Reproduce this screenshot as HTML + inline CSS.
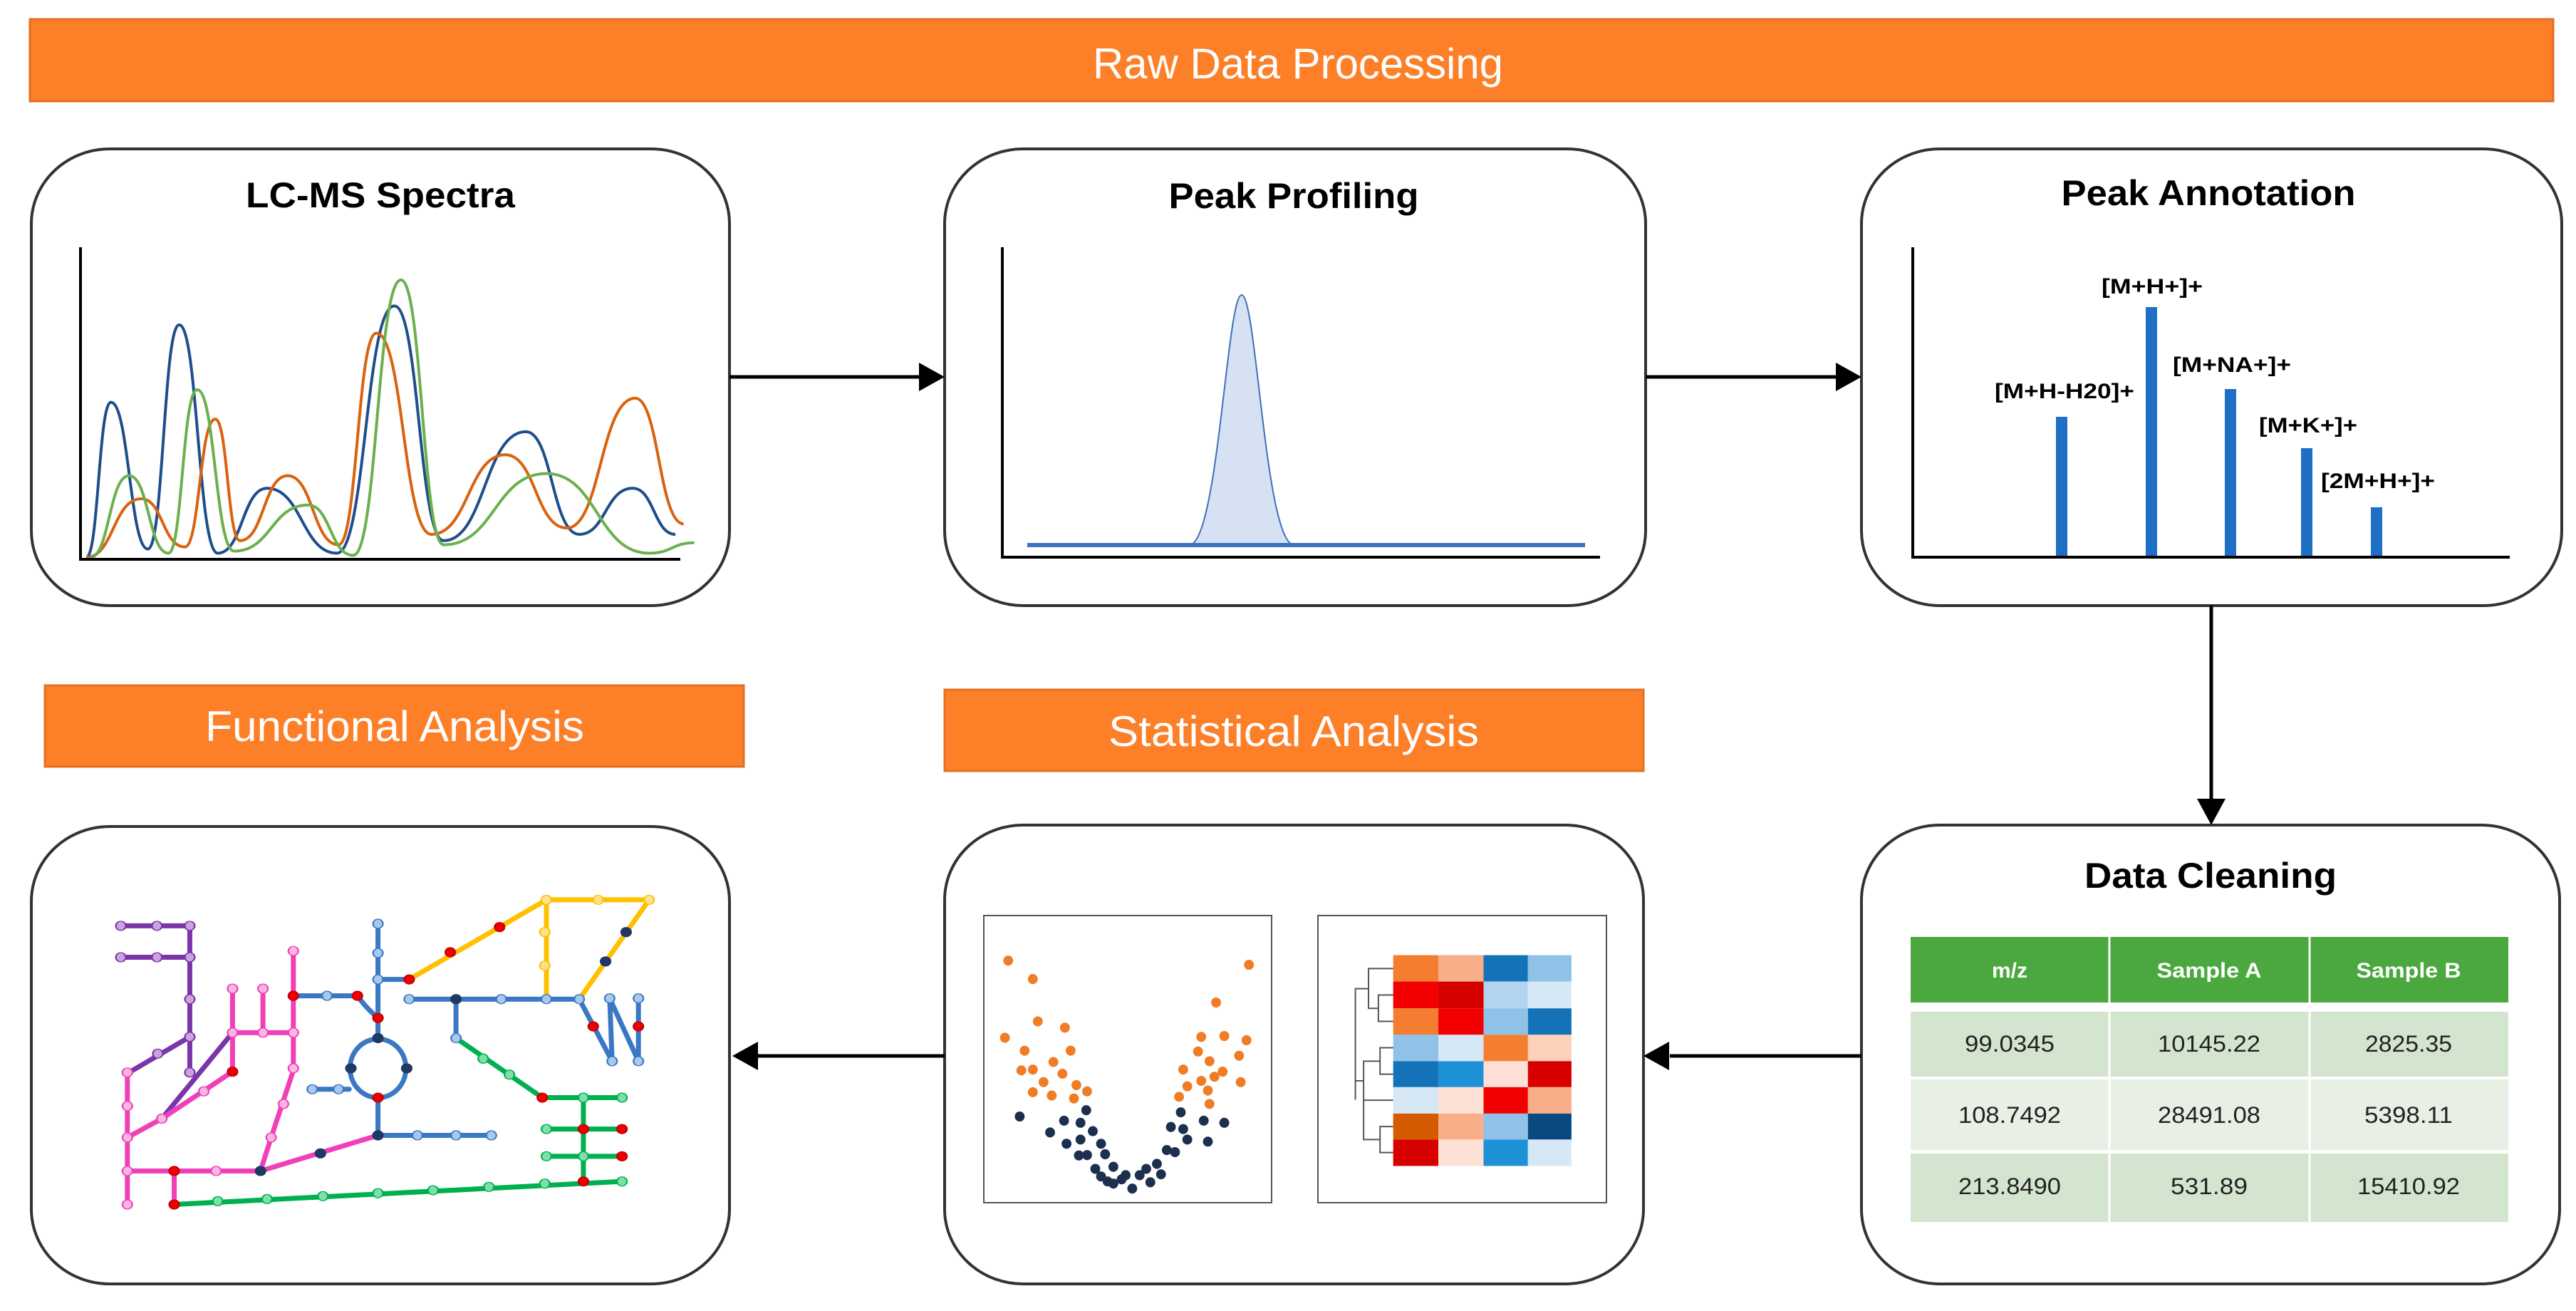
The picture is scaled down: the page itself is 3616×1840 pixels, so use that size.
<!DOCTYPE html>
<html><head><meta charset="utf-8"><style>
html,body{margin:0;padding:0;background:#fff;width:3616px;height:1840px;overflow:hidden}
svg{display:block}
.h{font-family:"Liberation Sans",Arial,sans-serif;font-weight:bold;fill:#000}
.b{font-family:"Liberation Sans",Arial,sans-serif;fill:#fff}
.t{font-family:"Liberation Sans",Arial,sans-serif;fill:#222}
.box{fill:#fff;stroke:#333;stroke-width:4}
.ban{fill:#fd7f28;stroke:#e36f22;stroke-width:3}
</style></head><body>
<svg width="3616" height="1840" viewBox="0 0 3616 1840" xmlns="http://www.w3.org/2000/svg">
<defs>
<marker id="ah" markerWidth="10" markerHeight="10" refX="9" refY="5" orient="auto" markerUnits="userSpaceOnUse" viewBox="0 0 10 10"><path d="M0,0 L10,5 L0,10 z" fill="#000"/></marker>
</defs>
<!-- banners -->
<rect class="ban" x="42" y="27" width="3542" height="115"/>
<text class="b" x="1822" y="110" font-size="60" text-anchor="middle" textLength="576" lengthAdjust="spacingAndGlyphs">Raw Data Processing</text>
<rect class="ban" x="63" y="962" width="981" height="114"/>
<text class="b" x="554" y="1040" font-size="60" text-anchor="middle" textLength="532" lengthAdjust="spacingAndGlyphs">Functional Analysis</text>
<rect class="ban" x="1326" y="968" width="981" height="114"/>
<text class="b" x="1816" y="1047" font-size="60" text-anchor="middle" textLength="520" lengthAdjust="spacingAndGlyphs">Statistical Analysis</text>

<!-- boxes -->
<rect class="box" x="44" y="209" width="980" height="641" rx="110" ry="105"/>
<rect class="box" x="1326" y="209" width="984" height="641" rx="110" ry="105"/>
<rect class="box" x="2613" y="209" width="983" height="641" rx="110" ry="105"/>
<rect class="box" x="2613" y="1158" width="980" height="644" rx="110" ry="105"/>
<rect class="box" x="1326" y="1158" width="981" height="644" rx="110" ry="105"/>
<rect class="box" x="44" y="1160" width="980" height="642" rx="110" ry="105"/>

<!-- arrows -->
<g stroke="#000" stroke-width="5" fill="none">
<line x1="1024" y1="529" x2="1290" y2="529"/>
<line x1="2310" y1="529" x2="2578" y2="529"/>
<line x1="3104" y1="850" x2="3104" y2="1122"/>
<line x1="2613" y1="1482" x2="2344" y2="1482"/>
<line x1="1326" y1="1482" x2="1060" y2="1482"/>
</g>
<path d="M1326,529 L1290,509 L1290,549 z"/>
<path d="M2613,529 L2577,509 L2577,549 z"/>
<path d="M3104,1158 L3084,1121 L3124,1121 z"/>
<path d="M2307,1482 L2343,1462 L2343,1502 z"/>
<path d="M1028,1482 L1064,1462 L1064,1502 z"/>

<!-- titles -->
<text class="h" x="534" y="291" font-size="50" text-anchor="middle" textLength="378" lengthAdjust="spacingAndGlyphs">LC-MS Spectra</text>
<text class="h" x="1816" y="292" font-size="50" text-anchor="middle" textLength="351" lengthAdjust="spacingAndGlyphs">Peak Profiling</text>
<text class="h" x="3100" y="288" font-size="50" text-anchor="middle" textLength="413" lengthAdjust="spacingAndGlyphs">Peak Annotation</text>
<text class="h" x="3103" y="1246" font-size="50" text-anchor="middle" textLength="354" lengthAdjust="spacingAndGlyphs">Data Cleaning</text>

<!-- LC-MS plot (zoom coords) -->
<g transform="matrix(1.1534,0,0,0.5882,0,0)" fill="none">
<path vector-effect="non-scaling-stroke" stroke="#1f4e8c" stroke-width="4" d="M105,1330 C120,1330 120,960 135,960 C157,960 158,1310 180,1310 C199,1310 199,775 218,775 C241,775 241,1320 265,1320 C295,1320 295,1165 325,1165 C367,1165 368,1320 410,1320 C445,1320 445,730 480,730 C510,730 510,1290 540,1290 C590,1290 590,1030 640,1030 C672,1030 672,1275 705,1275 C737,1275 737,1165 770,1165 C796,1165 796,1275 822,1275"/>
<path vector-effect="non-scaling-stroke" stroke="#d9620f" stroke-width="4" d="M105,1330 C138,1330 138,1190 172,1190 C198,1190 198,1305 225,1305 C243,1305 243,1000 262,1000 C277,1000 277,1290 292,1290 C321,1290 321,1135 350,1135 C381,1135 381,1300 412,1300 C435,1300 435,795 458,795 C491,795 491,1275 525,1275 C570,1275 570,1085 615,1085 C652,1085 652,1260 690,1260 C731,1260 731,950 773,950 C802,950 802,1250 832,1250"/>
<path vector-effect="non-scaling-stroke" stroke="#6ab04c" stroke-width="4" d="M110,1330 C133,1330 133,1135 157,1135 C181,1135 181,1320 205,1320 C222,1320 222,930 240,930 C262,930 262,1315 285,1315 C330,1315 330,1205 375,1205 C402,1205 402,1325 430,1325 C459,1325 459,668 488,668 C514,668 514,1300 540,1300 C602,1300 602,1130 665,1130 C727,1130 727,1320 790,1320 C818,1320 818,1295 845,1295"/>
</g>
<path d="M113,347 L113,785 L955,785" fill="none" stroke="#000" stroke-width="4"/>

<!-- Peak profiling -->
<path d="M1669,765 C1710,765 1722,414 1743,414 C1764,414 1776,765 1817,765 z" fill="#d6e1f3" stroke="#3f6fb8" stroke-width="2"/>
<line x1="1442" y1="765" x2="2225" y2="765" stroke="#3f73c0" stroke-width="6"/>
<path d="M1407,347 L1407,782 L2246,782" fill="none" stroke="#000" stroke-width="4"/>

<!-- Peak annotation -->
<g fill="#1f6fc5">
<rect x="2886" y="585" width="16" height="197"/>
<rect x="3012" y="431" width="16" height="351"/>
<rect x="3123" y="546" width="16" height="236"/>
<rect x="3230" y="629" width="16" height="153"/>
<rect x="3328" y="712" width="16" height="70"/>
</g>
<path d="M2685,347 L2685,782 L3523,782" fill="none" stroke="#000" stroke-width="4"/>
<g class="h" font-size="30" text-anchor="middle">
<text x="2898" y="559" textLength="196" lengthAdjust="spacingAndGlyphs">[M+H-H20]+</text>
<text x="3021" y="412" textLength="142" lengthAdjust="spacingAndGlyphs">[M+H+]+</text>
<text x="3133" y="522" textLength="166" lengthAdjust="spacingAndGlyphs">[M+NA+]+</text>
<text x="3240" y="607" textLength="138" lengthAdjust="spacingAndGlyphs">[M+K+]+</text>
<text x="3338" y="685" textLength="160" lengthAdjust="spacingAndGlyphs">[2M+H+]+</text>
</g>

<!-- table -->
<rect x="2682" y="1315" width="839" height="92" fill="#4aa83e"/>
<rect x="2682" y="1420" width="839" height="91" fill="#d4e5cf"/>
<rect x="2682" y="1515" width="839" height="99" fill="#e8efe5"/>
<rect x="2682" y="1619" width="839" height="96" fill="#d4e5cf"/>
<g stroke="#fff" stroke-width="3"><line x1="2961" y1="1315" x2="2961" y2="1715"/><line x1="3242" y1="1315" x2="3242" y2="1715"/></g>
<g class="b" font-size="30" font-weight="bold" text-anchor="middle">
<text x="2821" y="1372">m/z</text>
<text x="3101" y="1372" textLength="147" lengthAdjust="spacingAndGlyphs">Sample A</text>
<text x="3381" y="1372" textLength="147" lengthAdjust="spacingAndGlyphs">Sample B</text>
</g>
<g class="t" font-size="32" text-anchor="middle">
<text x="2821" y="1476" textLength="126" lengthAdjust="spacingAndGlyphs">99.0345</text>
<text x="3101" y="1476" textLength="144" lengthAdjust="spacingAndGlyphs">10145.22</text>
<text x="3381" y="1476" textLength="122" lengthAdjust="spacingAndGlyphs">2825.35</text>
<text x="2821" y="1576" textLength="144" lengthAdjust="spacingAndGlyphs">108.7492</text>
<text x="3101" y="1576" textLength="144" lengthAdjust="spacingAndGlyphs">28491.08</text>
<text x="3381" y="1576" textLength="124" lengthAdjust="spacingAndGlyphs">5398.11</text>
<text x="2821" y="1676" textLength="144" lengthAdjust="spacingAndGlyphs">213.8490</text>
<text x="3101" y="1676" textLength="108" lengthAdjust="spacingAndGlyphs">531.89</text>
<text x="3381" y="1676" textLength="144" lengthAdjust="spacingAndGlyphs">15410.92</text>
</g>

<!-- heatmap -->
<rect x="1850" y="1285" width="405" height="403" fill="#fff" stroke="#555" stroke-width="2"/>
<g transform="matrix(1.1534,0,0,0.5882,1808,920)">
<g>
<rect x="128" y="715" width="55" height="63" fill="#f47d30"/><rect x="183" y="715" width="55" height="63" fill="#f9ae8a"/><rect x="238" y="715" width="54" height="63" fill="#1473b8"/><rect x="292" y="715" width="53" height="63" fill="#8fc2e6"/>
<rect x="128" y="778" width="55" height="64" fill="#f20000"/><rect x="183" y="778" width="55" height="64" fill="#d60000"/><rect x="238" y="778" width="54" height="64" fill="#b3d4ee"/><rect x="292" y="778" width="53" height="64" fill="#d6e8f6"/>
<rect x="128" y="842" width="55" height="63" fill="#f47d30"/><rect x="183" y="842" width="55" height="63" fill="#f20000"/><rect x="238" y="842" width="54" height="63" fill="#8fc2e6"/><rect x="292" y="842" width="53" height="63" fill="#1473b8"/>
<rect x="128" y="905" width="55" height="63" fill="#8fc2e6"/><rect x="183" y="905" width="55" height="63" fill="#d6e8f6"/><rect x="238" y="905" width="54" height="63" fill="#f47d30"/><rect x="292" y="905" width="53" height="63" fill="#fdd0b8"/>
<rect x="128" y="968" width="55" height="62" fill="#1473b8"/><rect x="183" y="968" width="55" height="62" fill="#1e90d6"/><rect x="238" y="968" width="54" height="62" fill="#fde0d6"/><rect x="292" y="968" width="53" height="62" fill="#d60000"/>
<rect x="128" y="1030" width="55" height="63" fill="#d6e8f6"/><rect x="183" y="1030" width="55" height="63" fill="#fde0d6"/><rect x="238" y="1030" width="54" height="63" fill="#f20000"/><rect x="292" y="1030" width="53" height="63" fill="#f9ae8a"/>
<rect x="128" y="1093" width="55" height="62" fill="#d65a00"/><rect x="183" y="1093" width="55" height="62" fill="#f9ae8a"/><rect x="238" y="1093" width="54" height="62" fill="#8fc2e6"/><rect x="292" y="1093" width="53" height="62" fill="#084a80"/>
<rect x="128" y="1155" width="55" height="63" fill="#d60000"/><rect x="183" y="1155" width="55" height="63" fill="#fde0d6"/><rect x="238" y="1155" width="54" height="63" fill="#1e90d6"/><rect x="292" y="1155" width="53" height="63" fill="#d6e8f6"/>
</g>
<path vector-effect="non-scaling-stroke" fill="none" stroke="#555" stroke-width="2" d="M128,810 H110 V873 H128 M110,842 H98 V747 H128 M98,795 H82 V1060 M128,936 H112 V999 H128 M112,968 H92 V1061 H128 M92,1015 H82 M128,1124 H112 V1186 H128 M112,1155 H92 V1015"/>
</g>

<!-- scatter -->
<rect x="1381" y="1285" width="404" height="403" fill="#fff" stroke="#555" stroke-width="2"/>
<g transform="matrix(1.1534,0,0,0.5882,0,920)">
<g fill="#f07d26">
<ellipse cx="1227" cy="728" rx="6" ry="12"/><ellipse cx="1257" cy="772" rx="6" ry="12"/><ellipse cx="1263" cy="873" rx="6" ry="12"/><ellipse cx="1296" cy="888" rx="6" ry="12"/><ellipse cx="1223" cy="912" rx="6" ry="12"/><ellipse cx="1247" cy="943" rx="6" ry="12"/><ellipse cx="1303" cy="943" rx="6" ry="12"/><ellipse cx="1282" cy="970" rx="6" ry="12"/><ellipse cx="1243" cy="990" rx="6" ry="12"/><ellipse cx="1257" cy="988" rx="6" ry="12"/><ellipse cx="1293" cy="998" rx="6" ry="12"/><ellipse cx="1270" cy="1018" rx="6" ry="12"/><ellipse cx="1310" cy="1025" rx="6" ry="12"/><ellipse cx="1257" cy="1042" rx="6" ry="12"/><ellipse cx="1323" cy="1040" rx="6" ry="12"/><ellipse cx="1280" cy="1050" rx="6" ry="12"/><ellipse cx="1307" cy="1057" rx="6" ry="12"/>
<ellipse cx="1520" cy="738" rx="6" ry="12"/><ellipse cx="1480" cy="828" rx="6" ry="12"/><ellipse cx="1462" cy="910" rx="6" ry="12"/><ellipse cx="1490" cy="908" rx="6" ry="12"/><ellipse cx="1517" cy="918" rx="6" ry="12"/><ellipse cx="1458" cy="945" rx="6" ry="12"/><ellipse cx="1508" cy="955" rx="6" ry="12"/><ellipse cx="1472" cy="968" rx="6" ry="12"/><ellipse cx="1440" cy="988" rx="6" ry="12"/><ellipse cx="1488" cy="993" rx="6" ry="12"/><ellipse cx="1462" cy="1015" rx="6" ry="12"/><ellipse cx="1478" cy="1005" rx="6" ry="12"/><ellipse cx="1510" cy="1018" rx="6" ry="12"/><ellipse cx="1445" cy="1028" rx="6" ry="12"/><ellipse cx="1470" cy="1038" rx="6" ry="12"/><ellipse cx="1435" cy="1053" rx="6" ry="12"/><ellipse cx="1472" cy="1070" rx="6" ry="12"/>
</g>
<g fill="#1c2f4f">
<ellipse cx="1241" cy="1100" rx="6" ry="12"/><ellipse cx="1322" cy="1085" rx="6" ry="12"/><ellipse cx="1295" cy="1110" rx="6" ry="12"/><ellipse cx="1315" cy="1115" rx="6" ry="12"/><ellipse cx="1437" cy="1090" rx="6" ry="12"/><ellipse cx="1465" cy="1110" rx="6" ry="12"/><ellipse cx="1490" cy="1115" rx="6" ry="12"/><ellipse cx="1278" cy="1138" rx="6" ry="12"/><ellipse cx="1330" cy="1135" rx="6" ry="12"/><ellipse cx="1425" cy="1125" rx="6" ry="12"/><ellipse cx="1440" cy="1130" rx="6" ry="12"/><ellipse cx="1315" cy="1155" rx="6" ry="12"/><ellipse cx="1298" cy="1165" rx="6" ry="12"/><ellipse cx="1340" cy="1165" rx="6" ry="12"/><ellipse cx="1445" cy="1155" rx="6" ry="12"/><ellipse cx="1470" cy="1160" rx="6" ry="12"/><ellipse cx="1420" cy="1180" rx="6" ry="12"/><ellipse cx="1313" cy="1193" rx="6" ry="12"/><ellipse cx="1323" cy="1192" rx="6" ry="12"/><ellipse cx="1345" cy="1190" rx="6" ry="12"/><ellipse cx="1430" cy="1185" rx="6" ry="12"/><ellipse cx="1408" cy="1213" rx="6" ry="12"/><ellipse cx="1333" cy="1225" rx="6" ry="12"/><ellipse cx="1355" cy="1220" rx="6" ry="12"/><ellipse cx="1395" cy="1225" rx="6" ry="12"/><ellipse cx="1340" cy="1243" rx="6" ry="12"/><ellipse cx="1370" cy="1240" rx="6" ry="12"/><ellipse cx="1387" cy="1240" rx="6" ry="12"/><ellipse cx="1413" cy="1238" rx="6" ry="12"/><ellipse cx="1355" cy="1260" rx="6" ry="12"/><ellipse cx="1378" cy="1272" rx="6" ry="12"/><ellipse cx="1348" cy="1255" rx="6" ry="12"/><ellipse cx="1365" cy="1250" rx="6" ry="12"/><ellipse cx="1400" cy="1257" rx="6" ry="12"/>
</g>
</g>

<!-- network -->
<g transform="matrix(1.1534,0,0,0.5882,0,920)" fill="none" stroke-linecap="round">
<g vector-effect="non-scaling-stroke">
<path vector-effect="non-scaling-stroke" stroke="#7a35a8" stroke-width="7" d="M147,645 H231 M147,720 H231 M231,645 V995 M157,995 L231,910 M197,1105 L283,900"/>
<path vector-effect="non-scaling-stroke" stroke="#f040b8" stroke-width="7" d="M155,995 V1310 M155,1150 L197,1105 L283,993 V795 M155,1230 H317 L460,1145 M212,1230 V1310 M320,795 V900 M283,900 H357 M357,705 V990 L330,1150 L317,1230"/>
<path vector-effect="non-scaling-stroke" stroke="#3a78c4" stroke-width="7" d="M357,812 H435 Q445,840 460,865 M460,640 V915 M460,1055 V1145 H598 M380,1035 H425 M460,773 H498 M498,820 H705 M555,820 V913 M705,820 L745,968 M742,818 L745,968 M742,818 L777,968 M777,818 V968"/>
<ellipse vector-effect="non-scaling-stroke" cx="460" cy="985" rx="34" ry="70" stroke="#3a78c4" stroke-width="7"/>
<path vector-effect="non-scaling-stroke" stroke="#ffc000" stroke-width="7" d="M498,773 L665,583 H790 L705,820 M665,583 V820"/>
<path vector-effect="non-scaling-stroke" stroke="#00b050" stroke-width="7" d="M555,913 L660,1055 H757 M710,1055 V1255 M665,1130 H757 M665,1195 H757 M212,1310 L757,1255"/>
</g>
<g stroke-width="2" vector-effect="non-scaling-stroke">
<!-- purple nodes -->
<g fill="#c9a3e0" stroke="#7a35a8"><ellipse cx="147" cy="645" rx="6" ry="11"/><ellipse cx="191" cy="645" rx="6" ry="11"/><ellipse cx="231" cy="645" rx="6" ry="11"/><ellipse cx="147" cy="720" rx="6" ry="11"/><ellipse cx="191" cy="720" rx="6" ry="11"/><ellipse cx="231" cy="720" rx="6" ry="11"/><ellipse cx="231" cy="820" rx="6" ry="11"/><ellipse cx="231" cy="910" rx="6" ry="11"/><ellipse cx="231" cy="995" rx="6" ry="11"/><ellipse cx="192" cy="950" rx="6" ry="11"/></g>
<g fill="#f9b6e3" stroke="#f040b8"><ellipse cx="155" cy="995" rx="6" ry="11"/><ellipse cx="155" cy="1075" rx="6" ry="11"/><ellipse cx="155" cy="1150" rx="6" ry="11"/><ellipse cx="155" cy="1230" rx="6" ry="11"/><ellipse cx="155" cy="1310" rx="6" ry="11"/><ellipse cx="197" cy="1105" rx="6" ry="11"/><ellipse cx="248" cy="1040" rx="6" ry="11"/><ellipse cx="263" cy="1230" rx="6" ry="11"/><ellipse cx="283" cy="795" rx="6" ry="11"/><ellipse cx="320" cy="795" rx="6" ry="11"/><ellipse cx="283" cy="900" rx="6" ry="11"/><ellipse cx="320" cy="900" rx="6" ry="11"/><ellipse cx="357" cy="900" rx="6" ry="11"/><ellipse cx="357" cy="705" rx="6" ry="11"/><ellipse cx="357" cy="985" rx="6" ry="11"/><ellipse cx="345" cy="1070" rx="6" ry="11"/><ellipse cx="330" cy="1150" rx="6" ry="11"/></g>
<g fill="#a9c8ee" stroke="#3a78c4"><ellipse cx="398" cy="812" rx="6" ry="11"/><ellipse cx="460" cy="640" rx="6" ry="11"/><ellipse cx="460" cy="710" rx="6" ry="11"/><ellipse cx="460" cy="773" rx="6" ry="11"/><ellipse cx="380" cy="1035" rx="6" ry="11"/><ellipse cx="412" cy="1035" rx="6" ry="11"/><ellipse cx="508" cy="1145" rx="6" ry="11"/><ellipse cx="555" cy="1145" rx="6" ry="11"/><ellipse cx="598" cy="1145" rx="6" ry="11"/><ellipse cx="498" cy="820" rx="6" ry="11"/><ellipse cx="610" cy="820" rx="6" ry="11"/><ellipse cx="665" cy="820" rx="6" ry="11"/><ellipse cx="705" cy="820" rx="6" ry="11"/><ellipse cx="555" cy="913" rx="6" ry="11"/><ellipse cx="742" cy="818" rx="6" ry="11"/><ellipse cx="777" cy="818" rx="6" ry="11"/><ellipse cx="745" cy="968" rx="6" ry="11"/><ellipse cx="777" cy="968" rx="6" ry="11"/></g>
<g fill="#ffe38a" stroke="#ffc000"><ellipse cx="665" cy="583" rx="6" ry="11"/><ellipse cx="728" cy="583" rx="6" ry="11"/><ellipse cx="790" cy="583" rx="6" ry="11"/><ellipse cx="663" cy="660" rx="6" ry="11"/><ellipse cx="663" cy="740" rx="6" ry="11"/></g>
<g fill="#7ee0a8" stroke="#00b050"><ellipse cx="588" cy="962" rx="6" ry="11"/><ellipse cx="620" cy="1000" rx="6" ry="11"/><ellipse cx="710" cy="1055" rx="6" ry="11"/><ellipse cx="757" cy="1055" rx="6" ry="11"/><ellipse cx="665" cy="1130" rx="6" ry="11"/><ellipse cx="665" cy="1195" rx="6" ry="11"/><ellipse cx="710" cy="1195" rx="6" ry="11"/><ellipse cx="265" cy="1302" rx="6" ry="11"/><ellipse cx="325" cy="1297" rx="6" ry="11"/><ellipse cx="393" cy="1290" rx="6" ry="11"/><ellipse cx="460" cy="1283" rx="6" ry="11"/><ellipse cx="527" cy="1276" rx="6" ry="11"/><ellipse cx="595" cy="1268" rx="6" ry="11"/><ellipse cx="663" cy="1260" rx="6" ry="11"/><ellipse cx="757" cy="1255" rx="6" ry="11"/></g>
<g fill="#ee0000" stroke="#c00000"><ellipse cx="212" cy="1230" rx="6" ry="11"/><ellipse cx="212" cy="1310" rx="6" ry="11"/><ellipse cx="283" cy="993" rx="6" ry="11"/><ellipse cx="357" cy="812" rx="6" ry="11"/><ellipse cx="435" cy="812" rx="6" ry="11"/><ellipse cx="460" cy="865" rx="6" ry="11"/><ellipse cx="460" cy="1055" rx="6" ry="11"/><ellipse cx="498" cy="773" rx="6" ry="11"/><ellipse cx="548" cy="708" rx="6" ry="11"/><ellipse cx="608" cy="648" rx="6" ry="11"/><ellipse cx="722" cy="885" rx="6" ry="11"/><ellipse cx="777" cy="885" rx="6" ry="11"/><ellipse cx="660" cy="1055" rx="6" ry="11"/><ellipse cx="710" cy="1130" rx="6" ry="11"/><ellipse cx="757" cy="1130" rx="6" ry="11"/><ellipse cx="757" cy="1195" rx="6" ry="11"/><ellipse cx="710" cy="1255" rx="6" ry="11"/></g>
<g fill="#1f3864" stroke="#1f3864"><ellipse cx="317" cy="1230" rx="6" ry="11"/><ellipse cx="390" cy="1188" rx="6" ry="11"/><ellipse cx="460" cy="1145" rx="6" ry="11"/><ellipse cx="460" cy="913" rx="6" ry="11"/><ellipse cx="427" cy="985" rx="6" ry="11"/><ellipse cx="495" cy="985" rx="6" ry="11"/><ellipse cx="555" cy="820" rx="6" ry="11"/><ellipse cx="762" cy="660" rx="6" ry="11"/><ellipse cx="737" cy="730" rx="6" ry="11"/></g>
</g>
</g>
</svg>
</body></html>
